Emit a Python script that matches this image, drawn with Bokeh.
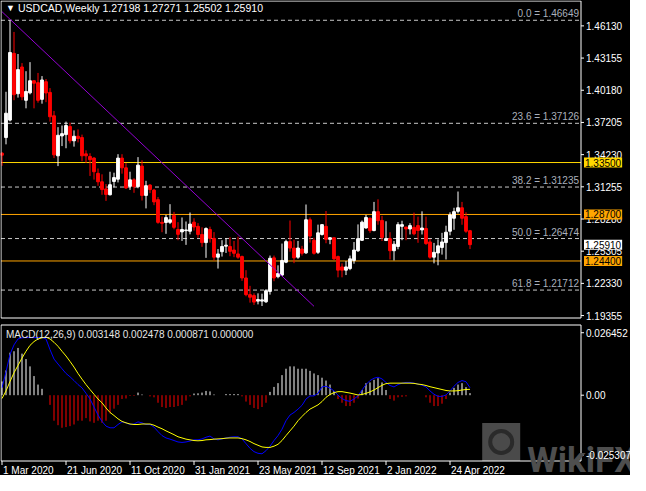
from bokeh.plotting import figure
from bokeh.layouts import column
from bokeh.models import Range1d, Label, ColumnDataSource
from bokeh.embed import file_html
from bokeh.resources import INLINE

# ---------------- data (weekly USDCAD, from 1 Mar 2020) ----------------
opens = [1.3436, 1.3581, 1.3742, 1.4359, 1.3986, 1.4233, 1.3925, 1.3994, 1.4106, 1.4088,
         1.3934, 1.4097, 1.3998, 1.3782, 1.3412, 1.3596, 1.3608, 1.3683, 1.3551, 1.3593,
         1.3581, 1.3430, 1.3406, 1.3391, 1.3250, 1.3172, 1.3106, 1.3052, 1.3175, 1.3196,
         1.3391, 1.3301, 1.3130, 1.3190, 1.3127, 1.3317, 1.3046, 1.3142, 1.3095, 1.3007,
         1.2797, 1.2796, 1.2797, 1.2860, 1.2731, 1.2709, 1.2720, 1.2715, 1.2799, 1.2760,
         1.2685, 1.2610, 1.2731, 1.2649, 1.2475, 1.2526, 1.2577, 1.2574, 1.2541, 1.2505,
         1.2481, 1.2283, 1.2129, 1.2120, 1.2069, 1.2069, 1.2063, 1.2159, 1.2469, 1.2295,
         1.2310, 1.2429, 1.2619, 1.2559, 1.2475, 1.2550, 1.2515, 1.2821, 1.2631, 1.2520,
         1.2685, 1.2760, 1.2640, 1.2655, 1.2481, 1.2385, 1.2355, 1.2370, 1.2445, 1.2535,
         1.2631, 1.2745, 1.2835, 1.2721, 1.2896, 1.2815, 1.2629, 1.2646, 1.2535, 1.2574,
         1.2760, 1.2754, 1.2736, 1.2751, 1.2767, 1.2727, 1.2740, 1.2616, 1.2475, 1.2514,
         1.2565, 1.2610, 1.2715, 1.2835, 1.2899, 1.2932, 1.2850, 1.27198]
highs = [1.3446, 1.4004, 1.4665, 1.4557, 1.4353, 1.4269, 1.4194, 1.4278, 1.4110, 1.4178,
         1.4149, 1.4122, 1.4038, 1.3827, 1.3677, 1.3692, 1.3728, 1.3719, 1.3647, 1.3656,
         1.3608, 1.3463, 1.3436, 1.3400, 1.3295, 1.3241, 1.3151, 1.3265, 1.3256, 1.3427,
         1.3427, 1.3346, 1.3265, 1.3205, 1.3400, 1.3371, 1.3181, 1.3150, 1.3106, 1.3031,
         1.2850, 1.2866, 1.2965, 1.2894, 1.2799, 1.2842, 1.2805, 1.2888, 1.2835, 1.2790,
         1.2751, 1.2751, 1.2757, 1.2707, 1.2550, 1.2632, 1.2650, 1.2659, 1.2625, 1.2664,
         1.2490, 1.2355, 1.2210, 1.2141, 1.2141, 1.2138, 1.2180, 1.2490, 1.2490, 1.2400,
         1.2601, 1.2637, 1.2814, 1.2637, 1.2625, 1.2580, 1.2962, 1.2842, 1.2655, 1.2776,
         1.2780, 1.2902, 1.2660, 1.2655, 1.2490, 1.2418, 1.2439, 1.2490, 1.2615, 1.2778,
         1.2814, 1.2866, 1.2842, 1.2986, 1.3010, 1.2857, 1.2807, 1.2706, 1.2625, 1.2799,
         1.2812, 1.2754, 1.2790, 1.2887, 1.2850, 1.2899, 1.2850, 1.2643, 1.2607, 1.2640,
         1.2700, 1.2766, 1.2890, 1.2932, 1.3082, 1.2986, 1.2890, 1.27271]
lows = [1.3320, 1.3518, 1.3730, 1.3926, 1.3950, 1.3926, 1.3851, 1.3980, 1.3851, 1.3903,
        1.3894, 1.3908, 1.3728, 1.3391, 1.3317, 1.3502, 1.3482, 1.3527, 1.3497, 1.3536,
        1.3361, 1.3346, 1.3226, 1.3192, 1.3135, 1.3052, 1.2995, 1.3046, 1.3121, 1.3166,
        1.3247, 1.3106, 1.3097, 1.3070, 1.3112, 1.2999, 1.2926, 1.3067, 1.2956, 1.2784,
        1.2706, 1.2691, 1.2781, 1.2733, 1.2632, 1.2625, 1.2589, 1.2686, 1.2721, 1.2655,
        1.2571, 1.2469, 1.2610, 1.2445, 1.2370, 1.2481, 1.2514, 1.2484, 1.2475, 1.2460,
        1.2256, 1.2114, 1.2055, 1.2034, 1.2039, 1.2024, 1.2052, 1.2129, 1.2253, 1.2280,
        1.2301, 1.2420, 1.2526, 1.2420, 1.2460, 1.2490, 1.2505, 1.2610, 1.2499, 1.2505,
        1.2675, 1.2604, 1.2595, 1.2448, 1.2289, 1.2289, 1.2310, 1.2355, 1.2415, 1.2523,
        1.2625, 1.2739, 1.2700, 1.2715, 1.2775, 1.2625, 1.2625, 1.2454, 1.2445, 1.2548,
        1.2632, 1.2632, 1.2685, 1.2677, 1.2608, 1.2685, 1.2589, 1.2460, 1.2418, 1.2400,
        1.2499, 1.2454, 1.2677, 1.2728, 1.2880, 1.2775, 1.2700, 1.25502]
closes = [1.3418, 1.3806, 1.4367, 1.3977, 1.4209, 1.3957, 1.4007, 1.4106, 1.4083, 1.3925,
          1.4113, 1.3993, 1.3773, 1.3421, 1.3602, 1.3617, 1.3692, 1.3551, 1.3593, 1.3572,
          1.3412, 1.3412, 1.3376, 1.3265, 1.3172, 1.3100, 1.3055, 1.3145, 1.3211, 1.3391,
          1.3301, 1.3115, 1.3190, 1.3127, 1.3326, 1.3046, 1.3136, 1.3100, 1.2986, 1.2797,
          1.2788, 1.2841, 1.2821, 1.2751, 1.2686, 1.2731, 1.2727, 1.2781, 1.2754, 1.2685,
          1.2610, 1.2740, 1.2649, 1.2475, 1.2505, 1.2574, 1.2586, 1.2529, 1.2511, 1.2475,
          1.2283, 1.2129, 1.2105, 1.2060, 1.2084, 1.2081, 1.2165, 1.2465, 1.2283, 1.2325,
          1.2445, 1.2619, 1.2559, 1.2469, 1.2560, 1.2511, 1.2821, 1.2670, 1.2511, 1.2700,
          1.2776, 1.2640, 1.2655, 1.2460, 1.2355, 1.2355, 1.2385, 1.2460, 1.2541, 1.2646,
          1.2799, 1.2842, 1.2721, 1.2896, 1.2812, 1.2658, 1.2647, 1.2535, 1.2595, 1.2776,
          1.2776, 1.2736, 1.2767, 1.2691, 1.2722, 1.2745, 1.2601, 1.2475, 1.2520, 1.2580,
          1.2616, 1.2706, 1.2866, 1.2896, 1.2932, 1.2835, 1.2715, 1.25910]

macd_main = [0.0031, 0.0099, 0.0173, 0.0213, 0.0238, 0.0243, 0.0244, 0.0244, 0.0244, 0.0244,
             0.0244, 0.0238, 0.0193, 0.0153, 0.0132, 0.0112, 0.0092, 0.0078, 0.0062, 0.0045,
             0.0031, 0.0008, -0.0016, -0.0050, -0.0084, -0.0111, -0.0131, -0.0138, -0.0138, -0.0124,
             -0.0113, -0.0117, -0.0124, -0.0122, -0.0113, -0.0117, -0.0124, -0.0124, -0.0135, -0.0154,
             -0.0171, -0.0181, -0.0186, -0.0192, -0.0198, -0.0200, -0.0198, -0.0194, -0.0189, -0.0189,
             -0.0185, -0.0178, -0.0173, -0.0185, -0.0189, -0.0185, -0.0181, -0.0178, -0.0176, -0.0176,
             -0.0185, -0.0205, -0.0225, -0.0239, -0.0246, -0.0248, -0.0235, -0.0216, -0.0192, -0.0171,
             -0.0144, -0.0108, -0.0084, -0.0073, -0.0059, -0.0043, -0.0016, -0.0003, -0.0003, 0.0008,
             0.0035, 0.0038, 0.0030, 0.0018, 0.0000, -0.0014, -0.0023, -0.0026, -0.0016, -0.0003,
             0.0022, 0.0045, 0.0062, 0.0072, 0.0076, 0.0069, 0.0054, 0.0041, 0.0035, 0.0045,
             0.0051, 0.0054, 0.0054, 0.0051, 0.0047, 0.0042, 0.0035, 0.0018, 0.0004, -0.0005,
             -0.0005, 0.0001, 0.0018, 0.0038, 0.0054, 0.0062, 0.0057, 0.003148]
macd_signal = [-0.0014, 0.0018, 0.0058, 0.0095, 0.0126, 0.0157, 0.0186, 0.0211, 0.0227, 0.0238,
               0.0243, 0.0246, 0.0238, 0.0224, 0.0207, 0.0186, 0.0166, 0.0143, 0.0119, 0.0092,
               0.0068, 0.0045, 0.0024, 0.0004, -0.0016, -0.0032, -0.0054, -0.0073, -0.0086, -0.0100,
               -0.0111, -0.0117, -0.0122, -0.0124, -0.0124, -0.0122, -0.0122, -0.0122, -0.0127, -0.0135,
               -0.0142, -0.0151, -0.0159, -0.0167, -0.0176, -0.0181, -0.0186, -0.0189, -0.0192, -0.0193,
               -0.0192, -0.0189, -0.0188, -0.0186, -0.0185, -0.0184, -0.0182, -0.0181, -0.0181, -0.0181,
               -0.0184, -0.0189, -0.0196, -0.0205, -0.0212, -0.0219, -0.0221, -0.0221, -0.0216, -0.0208,
               -0.0192, -0.0171, -0.0151, -0.0131, -0.0108, -0.0090, -0.0073, -0.0059, -0.0050, -0.0041,
               -0.0027, -0.0009, 0.0003, 0.0011, 0.0015, 0.0015, 0.0012, 0.0009, 0.0005, 0.0001,
               0.0003, 0.0008, 0.0014, 0.0022, 0.0032, 0.0042, 0.0049, 0.0051, 0.0051, 0.0051,
               0.0051, 0.0051, 0.0051, 0.0050, 0.0047, 0.0045, 0.0041, 0.0036, 0.0032, 0.0028,
               0.0024, 0.0020, 0.0018, 0.0018, 0.0019, 0.0022, 0.0024, 0.002478]
macd_hist = [0.0058, 0.0105, 0.0180, 0.0186, 0.0200, 0.0176, 0.0153, 0.0122, 0.0081, 0.0045,
             0.0027, 0.0000, -0.0041, -0.0108, -0.0127, -0.0138, -0.0135, -0.0131, -0.0124, -0.0108,
             -0.0108, -0.0097, -0.0111, -0.0117, -0.0108, -0.0117, -0.0108, -0.0077, -0.0057, -0.0041,
             -0.0016, -0.0014, -0.0003, -0.0003, 0.0011, 0.0003, 0.0000, -0.0005, -0.0009, -0.0032,
             -0.0050, -0.0054, -0.0050, -0.0050, -0.0046, -0.0041, -0.0023, -0.0005, 0.0007, 0.0008,
             0.0011, 0.0018, 0.0016, 0.0003, 0.0000, 0.0000, 0.0005, 0.0005, 0.0005, 0.0005,
             -0.0005, -0.0027, -0.0041, -0.0054, -0.0059, -0.0050, -0.0032, 0.0014, 0.0035, 0.0051,
             0.0085, 0.0112, 0.0122, 0.0122, 0.0112, 0.0112, 0.0112, 0.0103, 0.0092, 0.0085,
             0.0074, 0.0062, 0.0045, 0.0018, -0.0016, -0.0032, -0.0046, -0.0046, -0.0032, -0.0014,
             0.0022, 0.0051, 0.0054, 0.0065, 0.0072, 0.0054, 0.0022, -0.0016, -0.0023, -0.0009,
             -0.0007, -0.0005, 0.0000, 0.0000, 0.0000, 0.0000, -0.0009, -0.0032, -0.0046, -0.0046,
             -0.0036, -0.0016, 0.0011, 0.0031, 0.0045, 0.0051, 0.0034, 0.000871]

date_ticks = [0, 16, 32, 48, 64, 80, 96, 112]
date_labels = ["1 Mar 2020", "21 Jun 2020", "11 Oct 2020", "31 Jan 2021",
               "23 May 2021", "12 Sep 2021", "2 Jan 2022", "24 Apr 2022"]
price_ticks = [1.46130, 1.43155, 1.40180, 1.37205, 1.34230, 1.31255,
               1.28280, 1.25305, 1.22330, 1.19355]
macd_ticks = [0.026452, 0.0, -0.025307]
macd_tick_labels = ["0.026452", "0.00", "-0.025307"]
fib_levels = [0.0, 23.6, 38.2, 50.0, 61.8]
fib_prices = [1.46649, 1.37126, 1.31235, 1.26474, 1.21712]
level_prices = [1.33500, 1.28700, 1.24400]
level_colors = ["#FFD700", "#FFA500", "#FFA500"]
trend_weeks = [0, 78]
trend_prices = [1.4744, 1.2021]
header = "USDCAD,Weekly  1.27198 1.27271 1.25502 1.25910"
macd_header = "MACD(12,26,9) 0.003148 0.002478 0.000871 0.000000"

# ---------------- layout constants (pixels) ----------------
FONT = "Liberation Sans"
FS = "10px"
FIG_W = 630
PX = 4.0                 # pixels per weekly bar
X0 = -0.375              # week value at the left pixel of the figure
MAIN_H, MACD_H = 323, 152
MAIN_BOX = (0.5, 317.5)  # pixel rows of the main panel's frame
MACD_BOX = (1.5, 137.5)  # pixel rows of the MACD panel's frame
BOX_RIGHT_PX = 580.5
p_lo, p_hi = 1.1913, 1.4843
m_lo, m_hi = -0.02786, 0.02972
r = (p_hi - p_lo) / (MAIN_BOX[1] - MAIN_BOX[0])
q = (m_hi - m_lo) / (MACD_BOX[1] - MACD_BOX[0])
has_padding = "padding" in Label.properties()


def xs(px):
    return X0 + px / PX


def py(sy):
    return p_hi - (sy - MAIN_BOX[0]) * r


def my(sy):
    return m_hi - (sy - MACD_BOX[0]) * q


BOX_L, BOX_R = xs(0.5), xs(BOX_RIGHT_PX)
TICK_R = xs(BOX_RIGHT_PX + 3)
weeks = list(range(len(opens)))
x_rng = Range1d(X0, X0 + FIG_W / PX)


def make_fig(h, y0, y1):
    f = figure(width=FIG_W, height=h, x_range=x_rng, y_range=Range1d(y0, y1),
               x_axis_location=None, y_axis_location=None, toolbar_location=None,
               output_backend="svg", background_fill_color="black",
               border_fill_color="black", min_border=0, outline_line_color=None)
    f.grid.visible = False
    return f


def txt(f, x, y, s, color="white", align="left", baseline="middle", xo=0, yo=0,
        size=FS, bg=None, font=FONT, style="normal"):
    kw = dict(x=x, y=y, text=s, text_color=color, text_align=align, text_baseline=baseline,
              x_offset=xo, y_offset=yo, text_font=font, text_font_size=size,
              text_font_style=style)
    if bg is not None:
        kw["background_fill_color"] = bg
        if has_padding:
            kw["padding"] = 1
    f.add_layout(Label(**kw))


# ---------------- main price panel ----------------
p = make_fig(MAIN_H, py(MAIN_H), py(0))

# fibonacci levels and horizontal levels
p.segment(x0=[BOX_L] * len(fib_prices), x1=[BOX_R] * len(fib_prices), y0=fib_prices,
          y1=fib_prices, line_color="#C8C8C8", line_dash="4 3", line_width=1)
for lvl, pr in zip(fib_levels, fib_prices):
    txt(p, BOX_R, pr, f"{lvl:.1f} = {pr:.5f}", color="#AAB0BC", align="right",
        baseline="bottom", xo=-2, yo=1)
p.segment(x0=[BOX_L] * len(level_prices), x1=[BOX_R] * len(level_prices), y0=level_prices,
          y1=level_prices, line_color=level_colors, line_width=1)

# candles
up = [c >= o for o, c in zip(opens, closes)]
src = ColumnDataSource(dict(
    x=weeks, h=highs, l=lows,
    top=[max(o, c) for o, c in zip(opens, closes)],
    bottom=[min(o, c) for o, c in zip(opens, closes)],
    color=["#FFFFFF" if u else "#FF0000" for u in up]))
p.segment(x0="x", y0="h", x1="x", y1="l", line_color="color", line_width=1, source=src)
p.vbar(x="x", top="top", bottom="bottom", width=0.7, fill_color="color",
       line_color="color", line_width=1, source=src)

# trend line
p.line(trend_weeks, trend_prices, line_color="#9400D3", line_width=1)

# frame
p.quad(left=[BOX_L], right=[BOX_R], top=[p_hi], bottom=[p_lo], fill_color=None,
       line_color="white", line_width=1)

# price scale
p.segment(x0=[BOX_R] * len(price_ticks), x1=[TICK_R] * len(price_ticks), y0=price_ticks,
          y1=price_ticks, line_color="white", line_width=1)
for t in price_ticks:
    txt(p, TICK_R, t, f"{t:.5f}", xo=2)

tags = [(level_prices[0], level_colors[0]), (level_prices[1], level_colors[1]),
        (closes[-1], "#FFFFFF"), (level_prices[2], level_colors[2])]
for pr, col in tags:
    txt(p, BOX_R, pr, f"{pr:.5f}", color="black", bg=col, xo=3)

# title
txt(p, BOX_L, p_hi, "\u25BC", xo=5, yo=-7, size="9px")
txt(p, BOX_L, p_hi, header, xo=17, yo=-7, size="10.5px")

# ---------------- MACD panel ----------------
m = make_fig(MACD_H, my(MACD_H), my(0))

# watermark (drawn first, under everything else)
m.rect(x=[124.8], y=[my(MACD_BOX[1] - 19)], width=38, height=38, width_units="screen",
       height_units="screen", fill_color="#4A4A4A", line_color=None)
m.scatter(x=[124.8], y=[my(MACD_BOX[1] - 19)], size=22, marker="circle",
          fill_color=None, line_color="#2A2A2A", line_width=4)
txt(m, 131.3, my(MACD_BOX[1] - 1), "WikiFX", color="#4E4E4E", font="Roboto",
    style="bold", size="35px", baseline="alphabetic")

hsrc = ColumnDataSource(dict(x=weeks, y0=[0.0] * len(weeks), y1=macd_hist,
                             color=["#FFFFFF" if v > 0 else "#FF0000" for v in macd_hist]))
m.segment(x0="x", y0="y0", x1="x", y1="y1", line_color="color", line_width=1, source=hsrc)
m.line(weeks, macd_main, line_color="#0000FF", line_width=1)
m.line(weeks, macd_signal, line_color="#FFFF00", line_width=1)

m.quad(left=[BOX_L], right=[BOX_R], top=[m_hi], bottom=[m_lo], fill_color=None,
       line_color="white", line_width=1)

m.segment(x0=[BOX_R] * len(macd_ticks), x1=[TICK_R] * len(macd_ticks), y0=macd_ticks,
          y1=macd_ticks, line_color="white", line_width=1)
for t, s in zip(macd_ticks, macd_tick_labels):
    txt(m, TICK_R, t, s, xo=2)

m.segment(x0=date_ticks, x1=date_ticks, y0=[m_lo] * len(date_ticks),
          y1=[my(MACD_BOX[1] + 4)] * len(date_ticks), line_color="white", line_width=1)
for t, s in zip(date_ticks, date_labels):
    txt(m, t, my(MACD_BOX[1] + 9), s, xo=1)

txt(m, BOX_L, m_hi, macd_header, color="#E6E6E6", xo=5, yo=-9)

layout = column(p, m, spacing=0, background="black")
open("out.html", "w").write(file_html(layout, INLINE))
